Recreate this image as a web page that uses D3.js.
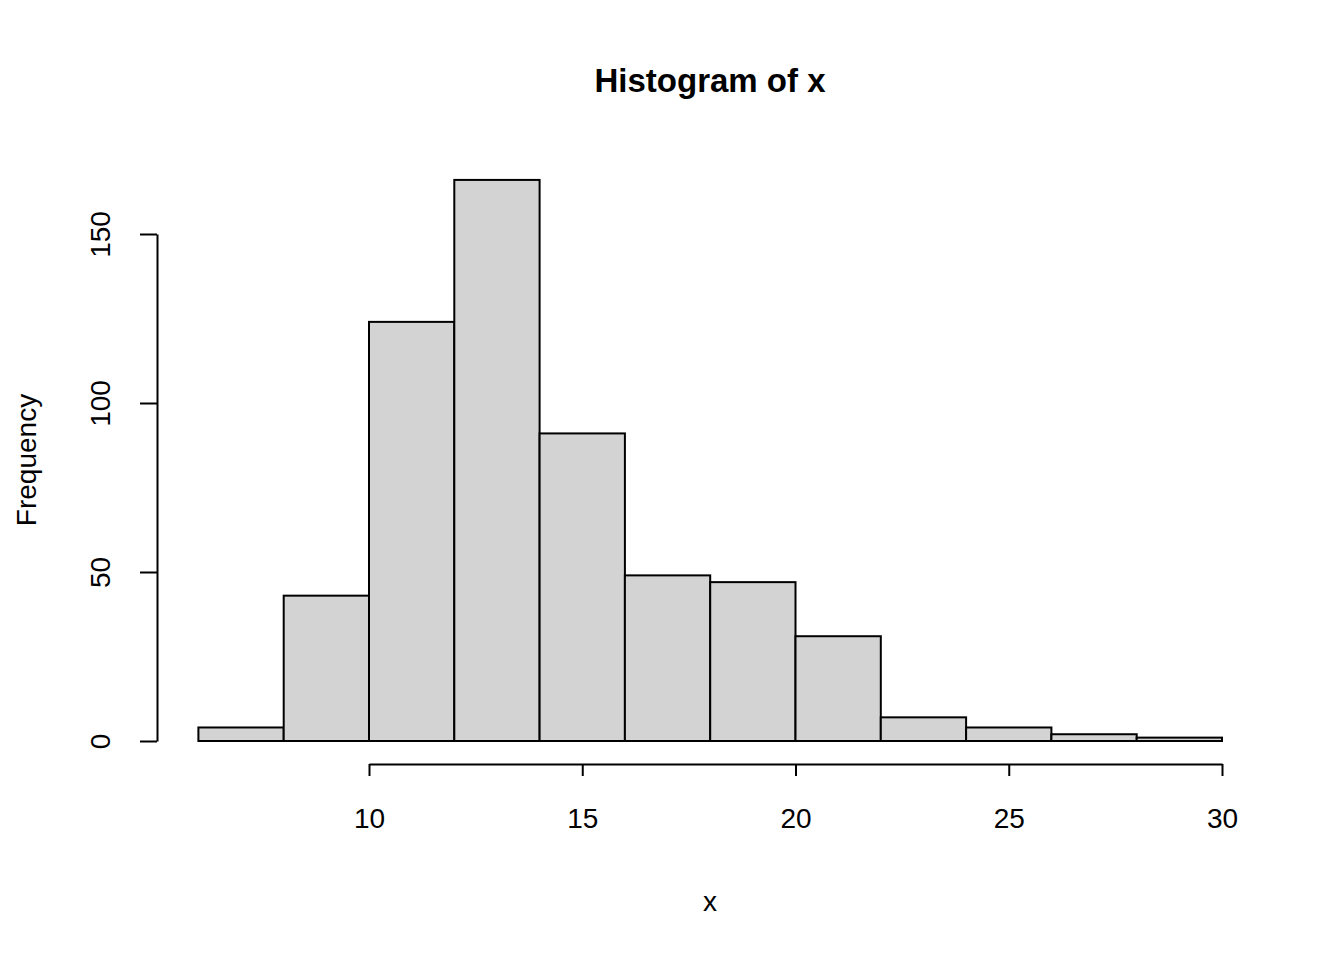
<!DOCTYPE html>
<html>
<head>
<meta charset="utf-8">
<script src="https://cdn.jsdelivr.net/npm/d3@7"></script>
<style>
  body { margin: 0; background: #fff; }
  text { font-family: "Liberation Sans", Arial, sans-serif; fill: #000; }
</style>
</head>
<body>
<svg id="chart" width="1344" height="960"></svg>
<script>
// histogram data: bins of width 2
const binStarts = [6, 8, 10, 12, 14, 16, 18, 20, 22, 24, 26, 28];
const binWidth = 2;
const counts = [4, 43, 124, 166, 91, 49, 47, 31, 7, 4, 2, 1];
const xTicks = [10, 15, 20, 25, 30];
const yTicks = [0, 50, 100, 150];

const svg = d3.select('#chart');

const x = d3.scaleLinear().domain([10, 30]).range([369, 1222]);
const y = d3.scaleLinear().domain([0, 150]).range([741, 234]);

// bars
svg.selectAll('.bar')
    .data(binStarts)
    .enter().append('rect')
    .attr('class', 'bar')
    .attr('x', d => x(d))
    .attr('y', (d, i) => y(counts[i]))
    .attr('width', d => x(d + binWidth) - x(d))
    .attr('height', (d, i) => y(0) - y(counts[i]))
    .attr('fill', '#d3d3d3')
    .attr('stroke', '#000')
    .attr('stroke-width', 2);

// x axis
const gx = svg.append('g').attr('transform', 'translate(0,764)');
gx.call(d3.axisBottom(x).tickValues(xTicks).tickSize(12).tickPadding(32).tickSizeOuter(0));

// y axis
const gy = svg.append('g').attr('transform', 'translate(157,0)');
gy.call(d3.axisLeft(y).tickValues(yTicks).tickSize(17).tickPadding(0).tickSizeOuter(0));
gy.selectAll('.tick text')
    .attr('transform', 'rotate(-90)')
    .attr('x', 0).attr('y', -57)
    .attr('dy', '0.35em')
    .style('text-anchor', 'middle');

[gx, gy].forEach(g => {
    g.select('.domain').attr('stroke', '#000').attr('stroke-width', 2);
    g.selectAll('.tick line').attr('stroke', '#000').attr('stroke-width', 2);
    g.selectAll('.tick text').style('font-size', '28px').style('font-family', '"Liberation Sans", Arial, sans-serif');
});

// titles
svg.append('text').attr('x', 710).attr('y', 92)
    .attr('text-anchor', 'middle')
    .style('font-size', '33px').style('font-weight', 'bold')
    .text('Histogram of x');
svg.append('text').attr('x', 710).attr('y', 911)
    .attr('text-anchor', 'middle').style('font-size', '28px')
    .text('x');
svg.append('text')
    .attr('transform', 'translate(36,460) rotate(-90)')
    .attr('text-anchor', 'middle').style('font-size', '28px')
    .text('Frequency');
</script>
</body>
</html>
